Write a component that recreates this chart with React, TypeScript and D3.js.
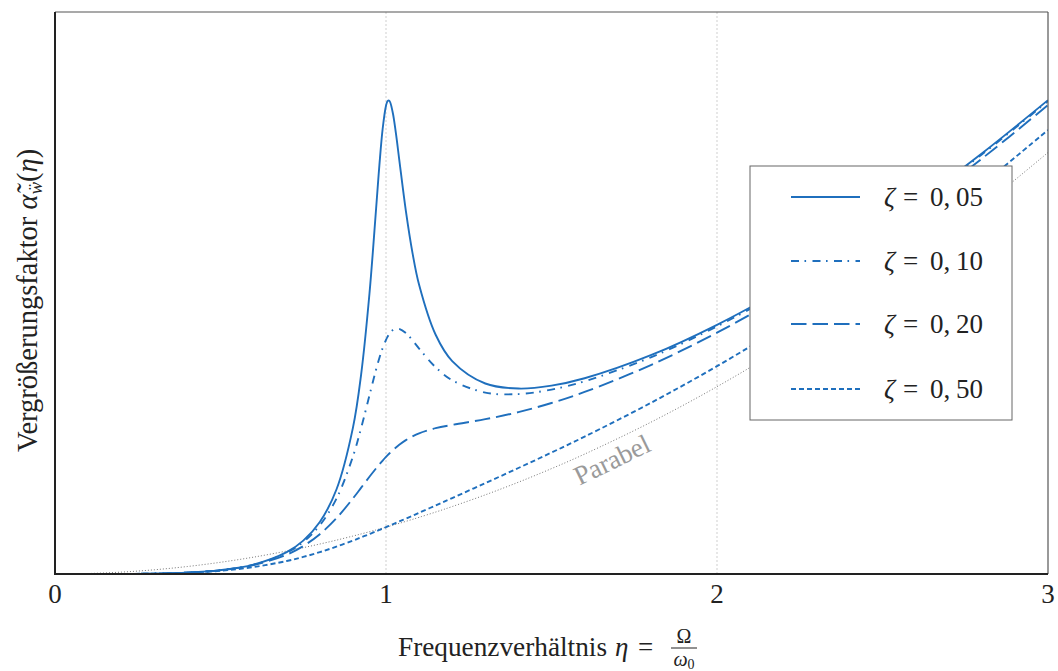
import React from "react";
import * as d3 from "d3";

// Frequency ratio grid (denser around resonance)
const eta = [
  0, 0.1, 0.2, 0.3, 0.4, 0.5, 0.6, 0.7, 0.75, 0.8, 0.85, 0.9, 0.925, 0.95, 0.97, 0.98, 0.99, 1.0,
  1.005, 1.01, 1.02, 1.03, 1.04, 1.06, 1.08, 1.1, 1.15, 1.2, 1.3, 1.4, 1.5, 1.6, 1.8, 2.0, 2.2,
  2.4, 2.6, 2.8, 3.0,
];

// Magnification factor for the four damping ratios
const zeta005 = [
  0, 0.0001, 0.00167, 0.0089, 0.0304, 0.0832, 0.2016, 0.4664, 0.7128, 1.1107, 1.7986, 3.1207,
  4.2696, 5.9833, 7.7938, 8.7264, 9.5127, 10.0, 10.1006, 10.105, 9.8663, 9.4059, 8.8495, 7.7536,
  6.858, 6.1759, 5.1082, 4.5467, 4.0677, 3.9598, 4.0212, 4.1791, 4.6714, 5.3215, 6.0905, 6.9612,
  7.9256, 8.9787, 10.1179,
];
const zeta010 = [
  0, 0.0001, 0.001665, 0.008882, 0.03034, 0.0826, 0.199, 0.454, 0.6841, 1.0397, 1.6041, 2.5068,
  3.1197, 3.814, 4.3653, 4.6128, 4.8271, 5.0, 5.0691, 5.1261, 5.205, 5.2394, 5.2357, 5.1446,
  4.9896, 4.8139, 4.4153, 4.1373, 3.8734, 3.8416, 3.9382, 4.1153, 4.6271, 5.2866, 6.0608, 6.9349,
  7.9016, 8.9563, 10.0967,
];
const zeta020 = [
  0, 0.0001, 0.001661, 0.008825, 0.02994, 0.08052, 0.1896, 0.4127, 0.5965, 0.8504, 1.1894,
  1.6118, 1.8433, 2.0762, 2.2557, 2.341, 2.4227, 2.5, 2.5369, 2.5726, 2.6401, 2.7024, 2.7595,
  2.8586, 2.9388, 3.003, 3.1133, 3.1845, 3.3057, 3.4565, 3.6512, 3.8866, 4.4616, 5.1533, 5.9463,
  6.8325, 7.8073, 8.8681, 10.013,
];
const zeta050 = [
  0, 0.0001, 0.001632, 0.008453, 0.02752, 0.06934, 0.1477, 0.2772, 0.3644, 0.4669, 0.5838,
  0.7133, 0.782, 0.8529, 0.911, 0.9404, 0.9701, 1.0, 1.015, 1.0301, 1.0604, 1.0908, 1.1214, 1.183,
  1.245, 1.3074, 1.4644, 1.6224, 1.9406, 2.2631, 2.5928, 2.9327, 3.6531, 4.4376, 5.2932, 6.2238,
  7.231, 8.3164, 9.4803,
];
// Reference parabola
const parabola = [
  0, 0.01, 0.04, 0.09, 0.16, 0.25, 0.36, 0.49, 0.5625, 0.64, 0.7225, 0.81, 0.855625, 0.9025,
  0.9409, 0.9604, 0.9801, 1, 1.010025, 1.0201, 1.0404, 1.0609, 1.0816, 1.1236, 1.1664, 1.21,
  1.3225, 1.44, 1.69, 1.96, 2.25, 2.56, 3.24, 4, 4.84, 5.76, 6.76, 7.84, 9,
];

const xTicks = [0, 1, 2, 3];
const gridTicks = [1, 2];
const legendLabels = ["05", "10", "20", "50"];

const BLUE = "#1f6fbd";
const series = [
  { values: zeta005, dash: "none", label: legendLabels[0] },
  { values: zeta010, dash: "8 5.5 1.6 6.4", label: legendLabels[1] },
  { values: zeta020, dash: "15.5 6", label: legendLabels[2] },
  { values: zeta050, dash: "5 3", label: legendLabels[3] },
];

const W = 1058;
const H = 671;
const left = 55;
const right = 1048;
const top = 12;
const bottom = 574;

const SERIF = "'Liberation Serif', 'Times New Roman', serif";

export default function App() {
  const x = d3.scaleLinear().domain([0, 3]).range([left, right]);
  const y = d3.scaleLinear().domain([0, 12]).range([bottom, top]);
  const line = d3
    .line<number>()
    .x((_, i) => x(eta[i]))
    .y((d) => y(d))
    .curve(d3.curveCatmullRom.alpha(0.5));

  const legX = 750;
  const legY = 166;
  const legW = 262;
  const legH = 254;
  const rowY = [197, 261, 324, 389];
  const ink = "#222";

  return (
    <svg
      width={W}
      height={H}
      style={{ position: "absolute", left: 0, top: 0, background: "#fff", fontFamily: SERIF }}
    >
      <defs>
        <clipPath id="plot-clip">
          <rect x={left} y={top} width={right - left} height={bottom - top} />
        </clipPath>
      </defs>

      {/* vertical grid */}
      {gridTicks.map((t) => (
        <line
          key={t}
          x1={x(t)}
          x2={x(t)}
          y1={top}
          y2={bottom}
          stroke="#cfcfcf"
          strokeWidth={1}
          strokeDasharray="2 2"
        />
      ))}

      <g clipPath="url(#plot-clip)">
        <path
          d={line(parabola) ?? ""}
          fill="none"
          stroke="#666"
          strokeWidth={0.9}
          strokeDasharray="1 2"
        />
        {series.map((s, i) => (
          <path
            key={i}
            d={line(s.values) ?? ""}
            fill="none"
            stroke={BLUE}
            strokeWidth={1.9}
            strokeDasharray={s.dash}
          />
        ))}
      </g>

      {/* Parabel label */}
      <text
        x={616}
        y={468}
        transform="rotate(-26 616 468)"
        fontSize={27}
        fill="#9a9a9a"
        textAnchor="middle"
      >
        Parabel
      </text>

      {/* frame */}
      <line x1={left} x2={right} y1={top} y2={top} stroke="#555" strokeWidth={1.2} />
      <line x1={right} x2={right} y1={top} y2={bottom} stroke="#555" strokeWidth={1.2} />
      <line x1={left} x2={left} y1={top} y2={bottom + 1} stroke={ink} strokeWidth={2} />
      <line x1={left - 1} x2={right} y1={bottom} y2={bottom} stroke={ink} strokeWidth={2} />

      {/* x tick labels */}
      {xTicks.map((t) => (
        <text key={t} x={x(t)} y={603} fontSize={27} textAnchor="middle" fill={ink}>
          {t}
        </text>
      ))}

      {/* x axis title */}
      <g fill={ink}>
        <text x={398} y={656} fontSize={27} textLength={209} lengthAdjust="spacingAndGlyphs">
          Frequenzverhältnis
        </text>
        <text x={615} y={656} fontSize={27} fontStyle="italic">
          η
        </text>
        <text x={638} y={656} fontSize={27}>
          =
        </text>
        <text x={684} y={643} fontSize={20} textAnchor="middle">
          Ω
        </text>
        <line x1={671} x2={697} y1={648} y2={648} stroke={ink} strokeWidth={1} />
        <text x={684} y={666} fontSize={20} textAnchor="middle">
          <tspan fontStyle="italic">ω</tspan>
          <tspan fontSize={14} dy={3}>
            0
          </tspan>
        </text>
      </g>

      {/* y axis title */}
      <text transform="translate(37 452) rotate(-90)" fontSize={28.5} fill={ink}>
        <tspan>Vergrößerungsfaktor </tspan>
        <tspan fontStyle="italic">α̃</tspan>
        <tspan fontSize={19} dy={5} fontStyle="italic">
          ẅ
        </tspan>
        <tspan dy={-5}>(</tspan>
        <tspan fontStyle="italic">η</tspan>
        <tspan>)</tspan>
      </text>

      {/* legend */}
      <rect x={legX} y={legY} width={legW} height={legH} fill="#fff" stroke="#666" strokeWidth={1} />
      {series.map((s, i) => (
        <g key={i} fill={ink} fontSize={27}>
          <line
            x1={791}
            x2={860}
            y1={rowY[i]}
            y2={rowY[i]}
            stroke={BLUE}
            strokeWidth={1.9}
            strokeDasharray={s.dash}
          />
          <text x={884} y={rowY[i] + 9} fontStyle="italic">
            ζ
          </text>
          <text x={903} y={rowY[i] + 9}>
            =
          </text>
          <text x={930} y={rowY[i] + 9}>
            0,
          </text>
          <text x={956} y={rowY[i] + 9}>
            {s.label}
          </text>
        </g>
      ))}
    </svg>
  );
}
